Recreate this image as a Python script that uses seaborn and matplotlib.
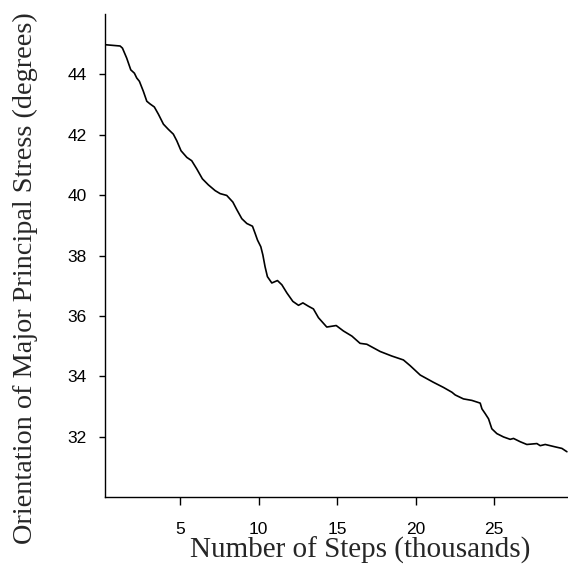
import matplotlib
matplotlib.use("Agg")
import matplotlib.pyplot as plt
import seaborn as sns
import pandas as pd

steps_thousands = [0.29, 1.18, 1.33, 1.6, 1.86, 2.09, 2.24, 2.41, 2.66, 2.88, 3.09, 3.36, 3.62,
                   3.94, 4.25, 4.57, 4.79, 5.06, 5.43, 5.74, 6.06, 6.42, 6.80, 7.23, 7.55, 7.97,
                   8.36, 8.61, 8.93, 9.25, 9.61, 9.78, 9.93, 10.14, 10.27, 10.41, 10.56, 10.84,
                   11.2, 11.48, 11.8, 12.18, 12.54, 12.82, 13.17, 13.49, 13.81, 14.34, 14.94,
                   15.4, 15.94, 16.46, 16.89, 17.74, 18.48, 19.22, 19.65, 20.29, 21.13, 21.77,
                   22.31, 22.52, 23.04, 23.58, 24.11, 24.22, 24.43, 24.64, 24.85, 25.17, 25.59,
                   26.02, 26.23, 26.66, 27.08, 27.72, 27.93, 28.25, 28.89, 29.31, 29.63]
orientation_deg = [44.98, 44.94, 44.87, 44.54, 44.15, 44.04, 43.88, 43.77, 43.44, 43.11, 43.02,
                   42.92, 42.68, 42.35, 42.18, 42.02, 41.80, 41.47, 41.25, 41.14, 40.87, 40.54,
                   40.34, 40.15, 40.05, 39.99, 39.77, 39.52, 39.22, 39.06, 38.97, 38.73, 38.51,
                   38.29, 38.02, 37.63, 37.30, 37.09, 37.17, 37.03, 36.76, 36.48, 36.35, 36.43,
                   36.32, 36.23, 35.94, 35.63, 35.68, 35.50, 35.33, 35.09, 35.06, 34.82, 34.67,
                   34.54, 34.35, 34.04, 33.80, 33.63, 33.47, 33.38, 33.25, 33.20, 33.11, 32.92,
                   32.76, 32.59, 32.26, 32.10, 31.99, 31.91, 31.94, 31.83, 31.74, 31.77, 31.70,
                   31.74, 31.66, 31.61, 31.50]
x_ticks = [5, 10, 15, 20, 25]
y_ticks = [32, 34, 36, 38, 40, 42, 44]

df = pd.DataFrame({"steps": steps_thousands, "angle": orientation_deg})

sns.set_style("ticks")
plt.rcParams["font.family"] = ["Liberation Sans", "DejaVu Sans"]

fig = plt.figure(figsize=(5.68, 5.8), dpi=100)
ax = fig.add_axes([104.7 / 568, 83 / 580, (568 - 104.7) / 568, 483 / 580])

sns.lineplot(data=df, x="steps", y="angle", ax=ax, color="black", linewidth=1.2)

ax.set_xlim(0.2, 29.7)
ax.set_ylim(30, 46)
ax.set_xticks(x_ticks)
ax.set_yticks(y_ticks)
ax.set_xticklabels([str(t) for t in x_ticks])
ax.set_yticklabels([str(t) for t in y_ticks])

for s in ["top", "right"]:
    ax.spines[s].set_visible(False)
for s in ["left", "bottom"]:
    ax.spines[s].set_linewidth(1.0)
    ax.spines[s].set_color("black")

ax.tick_params(axis="y", direction="out", length=4, width=1, pad=9, labelsize=12.5, colors="black")
ax.tick_params(axis="x", direction="out", length=6, width=1, pad=12, labelsize=12.5, colors="black")

serif = ["Liberation Serif", "DejaVu Serif"]
ax.set_xlabel("Number of Steps (thousands)", family=serif, fontsize=21)
ax.set_ylabel("Orientation of Major Principal Stress (degrees)", family=serif, fontsize=20.3)
ax.xaxis.set_label_coords(0.551, -0.125)
ax.xaxis.label.set_va("baseline")
ax.yaxis.set_label_coords(-0.172, 0.4524)
ax.yaxis.label.set_va("center")

fig.savefig("out.png", dpi=100)
